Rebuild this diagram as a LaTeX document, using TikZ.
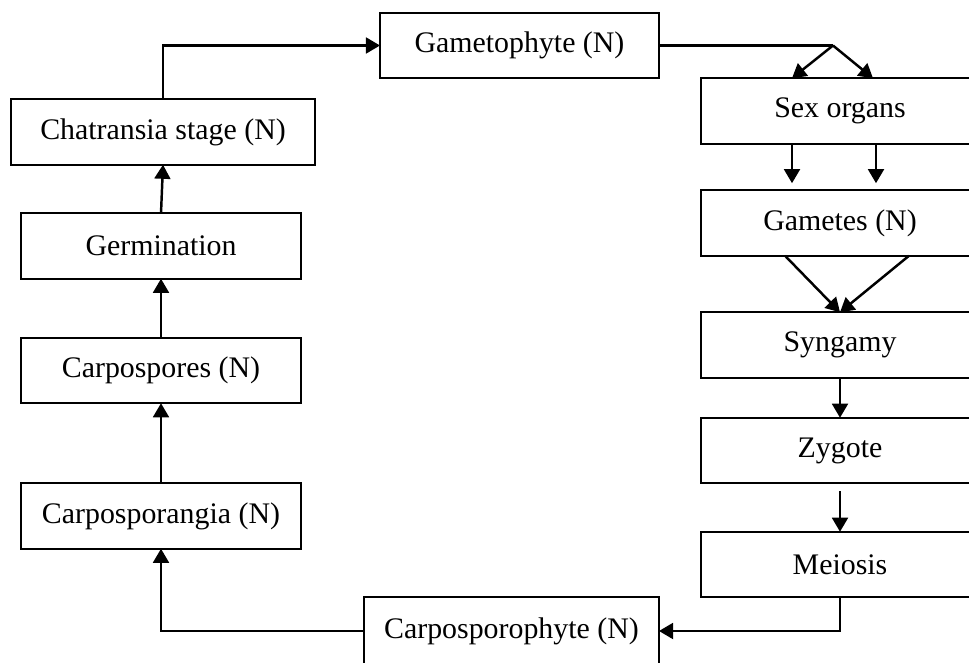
\documentclass[tikz,border=0pt]{standalone}
\usepackage{fontspec}
\setmainfont{Liberation Serif}
\usetikzlibrary{calc,arrows.meta}

\begin{document}
\begin{tikzpicture}[x=0.02cm,y=-0.02cm,font=\fontsize{17}{20}\selectfont,
  box/.style={rectangle, draw, line width=1.2pt, outer sep=0pt, inner sep=0pt, minimum height=1.31cm},
  arr/.style={line width=1.4pt, -{Triangle[length=8pt,width=9pt]}}]
\useasboundingbox (0,0) rectangle (969,662);

\node (game) [box, minimum width=5.58cm] at (519.5,45.5) {Gametophyte (N)};
\node (chat) [box, minimum width=6.08cm] at (163,132) {Chatransia stage (N)};
\node (germ) [box, minimum width=5.6cm] at (161,246) {Germination};
\node (cspo) [box, minimum width=5.6cm] at (161,370.5) {Carpospores (N)};
\node (cspa) [box, minimum width=5.6cm] at (161,516) {Carposporangia (N)};
\node (cphy) [box, minimum width=5.9cm, minimum height=1.36cm] at (511.5,631) {Carposporophyte (N)};

\node (sex) [box, minimum width=5.56cm] at (840,111) {Sex organs};
\node (gam) [box, minimum width=5.56cm] at (840,223) {Gametes (N)};
\node (syn) [box, minimum width=5.56cm] at (840,345) {Syngamy};
\node (zyg) [box, minimum width=5.56cm] at (840,450.5) {Zygote};
\node (mei) [box, minimum width=5.56cm] at (840,564.5) {Meiosis};

\coordinate (split) at ($(game.east)+(174,0)$);

\draw [arr] (chat.north) |- (game.west);
\draw [arr] (germ.north) -- (chat.south);
\draw [arr] (cspo.north) -- (germ.south);
\draw [arr] (cspa.north) -- (cspo.south);
\draw [arr] (cphy.west) -| (cspa.south);

\draw [line width=1.4pt] (game.east) -- (split);
\draw [arr] (split) -- ($(sex.north)+(-48,0)$);
\draw [arr] (split) -- ($(sex.north)+(33,0)$);

\draw [arr, shorten >=4pt] ($(sex.south)+(-48,0)$) -- ($(gam.north)+(-48,0)$);
\draw [arr, shorten >=4pt] ($(sex.south)+(36,0)$) -- ($(gam.north)+(36,0)$);

\draw [arr] ($(gam.south)+(-55,0)$) -- (syn.north);
\draw [arr] ($(gam.south)+(69,0)$) -- (syn.north);

\draw [arr] (syn.south) -- (zyg.north);
\draw [arr, shorten <=4.5pt] (zyg.south) -- (mei.north);
\draw [arr] (mei.south) |- (cphy.east);

\end{tikzpicture}
\end{document}
